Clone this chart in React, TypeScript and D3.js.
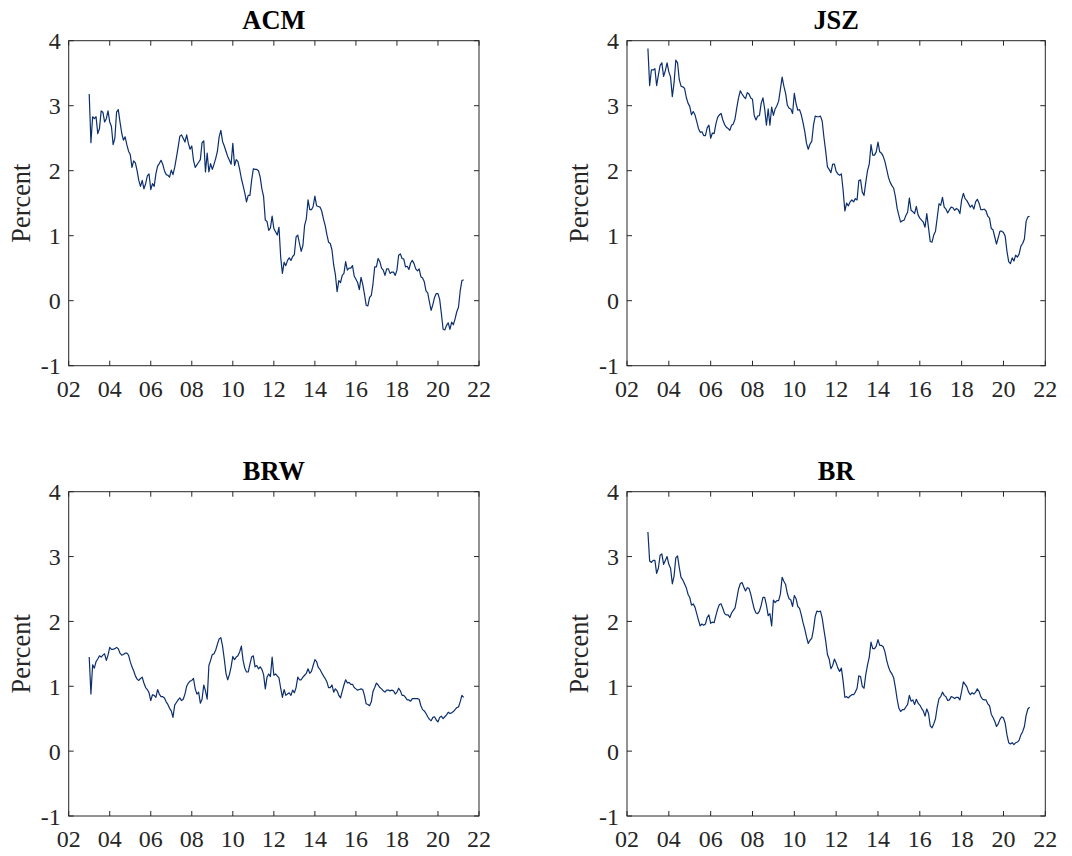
import React from 'react';
import * as d3 from 'd3';

// Monthly observations starting January 2003
const START_YEAR = 2003;
const xTickYears = [2002, 2004, 2006, 2008, 2010, 2012, 2014, 2016, 2018, 2020, 2022];
const yTickValues = [-1, 0, 1, 2, 3, 4];
const panelTitles = ['ACM', 'JSZ', 'BRW', 'BR'];

const acmValues = [
  3.18, 2.43, 2.83, 2.80, 2.83, 2.57, 2.65, 2.92, 2.90, 2.75, 2.80, 2.92,
  2.75, 2.68, 2.40, 2.50, 2.90, 2.94, 2.75, 2.58, 2.47, 2.52, 2.40, 2.30,
  2.25, 2.05, 2.15, 2.12, 2.00, 1.85, 1.76, 1.85, 1.72, 1.80, 1.92, 1.95,
  1.71, 1.80, 1.76, 1.95, 2.07, 2.11, 2.16, 2.10, 2.00, 1.94, 1.93, 1.90,
  2.01, 1.94, 2.05, 2.20, 2.36, 2.53, 2.55, 2.50, 2.44, 2.55, 2.42, 2.33,
  2.38, 2.16, 2.05, 2.09, 2.13, 2.17, 2.43, 2.46, 1.98, 2.27, 1.98, 2.11,
  2.02, 2.10, 2.19, 2.30, 2.52, 2.62, 2.45, 2.38, 2.30, 2.22, 2.16, 2.10,
  2.42, 2.08, 2.17, 2.14, 2.02, 1.88, 1.77, 1.66, 1.52, 1.62, 1.62, 1.85,
  2.03, 2.02, 2.02, 2.00, 1.90, 1.72, 1.60, 1.24, 1.22, 1.08, 1.12, 1.30,
  1.11, 1.06, 1.01, 1.13, 0.67, 0.42, 0.59, 0.54, 0.62, 0.66, 0.62, 0.68,
  0.71, 0.98, 1.01, 0.88, 0.76, 0.85, 1.16, 1.26, 1.55, 1.40, 1.40, 1.45,
  1.61, 1.46, 1.45, 1.44, 1.38, 1.26, 1.16, 1.02, 0.90, 0.88, 0.78, 0.55,
  0.40, 0.14, 0.31, 0.28, 0.39, 0.42, 0.60, 0.47, 0.50, 0.50, 0.54, 0.38,
  0.33, 0.28, 0.17, 0.36, 0.25, 0.10, -0.07, -0.08, 0.05, 0.08, 0.26, 0.52,
  0.52, 0.65, 0.60, 0.50, 0.47, 0.39, 0.49, 0.49, 0.42, 0.44, 0.44, 0.39,
  0.47, 0.70, 0.72, 0.65, 0.64, 0.52, 0.53, 0.48, 0.58, 0.62, 0.57, 0.49,
  0.46, 0.49, 0.37, 0.35, 0.29, 0.15, 0.12, -0.02, -0.15, -0.06, 0.05, 0.11,
  0.11, 0.02, -0.20, -0.44, -0.45, -0.38, -0.34, -0.44, -0.33, -0.37, -0.28, -0.17,
  -0.10, 0.15, 0.31, 0.32,
];

const jszValues = [
  3.88, 3.31, 3.55, 3.55, 3.57, 3.31, 3.47, 3.62, 3.66, 3.45, 3.54, 3.66,
  3.52, 3.44, 3.14, 3.35, 3.70, 3.66, 3.40, 3.30, 3.29, 3.27, 3.13, 3.04,
  2.99, 2.86, 2.91, 2.86, 2.76, 2.65, 2.59, 2.60, 2.54, 2.54, 2.66, 2.70,
  2.50, 2.58, 2.57, 2.72, 2.82, 2.86, 2.88, 2.78, 2.71, 2.67, 2.65, 2.62,
  2.70, 2.72, 2.80, 2.97, 3.12, 3.23, 3.18, 3.14, 3.11, 3.20, 3.18, 3.12,
  3.10, 2.85, 2.78, 2.84, 2.85, 3.04, 3.12, 2.95, 2.70, 2.95, 2.70, 2.98,
  2.85, 2.95, 3.00, 3.07, 3.25, 3.44, 3.30, 3.19, 3.01, 2.96, 2.95, 2.88,
  3.19, 3.03, 2.93, 2.94, 2.86, 2.74, 2.60, 2.42, 2.33, 2.41, 2.45, 2.70,
  2.84, 2.83, 2.83, 2.84, 2.76, 2.51, 2.30, 2.06, 2.02, 1.97, 2.10, 2.10,
  1.99, 1.95, 1.93, 1.95, 1.70, 1.38, 1.50, 1.46, 1.52, 1.55, 1.52, 1.57,
  1.55, 1.85, 1.86, 1.67, 1.62, 1.82, 2.00, 2.10, 2.40, 2.24, 2.24, 2.29,
  2.44, 2.29, 2.27, 2.22, 2.14, 2.02, 1.90, 1.82, 1.77, 1.73, 1.60, 1.42,
  1.31, 1.21, 1.23, 1.24, 1.31, 1.36, 1.58, 1.39, 1.37, 1.34, 1.45, 1.32,
  1.27, 1.24, 1.21, 1.13, 1.34, 1.12, 0.91, 0.90, 1.01, 1.07, 1.28, 1.49,
  1.47, 1.59, 1.44, 1.41, 1.35, 1.40, 1.44, 1.43, 1.39, 1.42, 1.40, 1.34,
  1.55, 1.65, 1.57, 1.54, 1.49, 1.44, 1.47, 1.41, 1.52, 1.56, 1.50, 1.40,
  1.40, 1.41, 1.38, 1.30, 1.27, 1.11, 1.09, 0.98, 0.87, 0.97, 1.07, 1.07,
  1.05, 0.99, 0.76, 0.60, 0.57, 0.66, 0.61, 0.70, 0.67, 0.72, 0.84, 0.88,
  0.95, 1.22, 1.29, 1.30,
];

const brwValues = [
  1.45, 0.88, 1.33, 1.28, 1.38, 1.42, 1.47, 1.45, 1.48, 1.50, 1.40, 1.48,
  1.60, 1.57, 1.57, 1.58, 1.60, 1.58, 1.51, 1.48, 1.49, 1.51, 1.51, 1.48,
  1.38, 1.30, 1.24, 1.16, 1.11, 1.09, 1.12, 1.14, 1.05, 0.98, 0.95, 0.90,
  0.78, 0.87, 0.86, 0.83, 0.95, 0.88, 0.84, 0.84, 0.82, 0.76, 0.72, 0.66,
  0.62, 0.52, 0.71, 0.75, 0.79, 0.82, 0.78, 0.80, 0.88, 1.00, 1.05, 1.08,
  1.09, 1.12, 0.96, 0.88, 0.91, 0.74, 0.80, 1.02, 0.93, 0.80, 1.32, 1.40,
  1.49, 1.50, 1.56, 1.65, 1.73, 1.75, 1.62, 1.42, 1.20, 1.10, 1.18, 1.30,
  1.46, 1.41, 1.45, 1.47, 1.53, 1.62, 1.40, 1.28, 1.22, 1.22, 1.34, 1.45,
  1.47, 1.30, 1.32, 1.27, 1.30, 1.26, 1.18, 0.96, 1.14, 1.19, 1.15, 1.45,
  1.17, 1.19, 1.16, 1.13, 0.97, 0.83, 0.95, 0.86, 0.88, 0.90, 0.86, 0.94,
  0.90, 0.98, 1.14, 1.10, 1.10, 1.14, 1.17, 1.20, 1.27, 1.20, 1.23, 1.32,
  1.41, 1.38, 1.29, 1.26, 1.21, 1.16, 1.12, 1.07, 0.98, 0.98, 1.02, 0.91,
  0.96, 0.93, 0.86, 0.82, 0.92, 1.02, 1.10, 1.05, 1.06, 1.03, 1.03, 0.98,
  0.96, 0.94, 0.95, 0.96, 0.95, 0.86, 0.73, 0.72, 0.70, 0.76, 0.92, 0.98,
  1.05, 1.02, 0.98, 0.96, 0.93, 0.91, 0.94, 0.94, 0.93, 0.94, 0.93, 0.88,
  0.91, 0.97, 0.93, 0.86, 0.86, 0.83, 0.79, 0.79, 0.77, 0.81, 0.81, 0.81,
  0.81, 0.80, 0.70, 0.64, 0.62, 0.58, 0.53, 0.49, 0.47, 0.52, 0.53, 0.48,
  0.45, 0.52, 0.54, 0.50, 0.53, 0.56, 0.60, 0.58, 0.59, 0.61, 0.64, 0.67,
  0.68, 0.76, 0.86, 0.83,
];

const brValues = [
  3.38, 2.93, 2.91, 2.94, 2.94, 2.74, 2.82, 3.02, 3.04, 2.88, 2.94, 3.00,
  2.88, 2.82, 2.58, 2.70, 2.98, 3.01, 2.83, 2.68, 2.64, 2.58, 2.52, 2.42,
  2.37, 2.25, 2.27, 2.22, 2.12, 2.02, 1.93, 1.96, 1.94, 1.96, 2.06, 2.10,
  1.97, 1.99, 1.98, 2.09, 2.19, 2.26, 2.27, 2.20, 2.12, 2.10, 2.10, 2.06,
  2.13, 2.17, 2.21, 2.35, 2.50, 2.58, 2.60, 2.53, 2.47, 2.52, 2.51, 2.42,
  2.30, 2.19, 2.13, 2.12, 2.16, 2.25, 2.37, 2.37, 2.25, 2.09, 2.12, 1.93,
  2.33, 2.29, 2.32, 2.32, 2.42, 2.68, 2.62, 2.57, 2.43, 2.35, 2.33, 2.23,
  2.40, 2.35, 2.23, 2.20, 2.10, 1.98, 1.88, 1.76, 1.66, 1.71, 1.74, 1.88,
  2.08, 2.16, 2.15, 2.16, 2.05, 1.87, 1.70, 1.49, 1.42, 1.27, 1.32, 1.42,
  1.36, 1.28, 1.23, 1.28, 1.08, 0.83, 0.84, 0.82, 0.85, 0.87, 0.87, 0.91,
  0.97, 1.16, 1.15, 1.00, 0.97, 1.18, 1.33, 1.45, 1.68, 1.58, 1.58, 1.62,
  1.72, 1.63, 1.63, 1.61, 1.53, 1.40, 1.30, 1.23, 1.19, 1.13, 0.98, 0.80,
  0.66, 0.61, 0.64, 0.64, 0.68, 0.72, 0.86, 0.77, 0.79, 0.72, 0.80, 0.74,
  0.71, 0.66, 0.62, 0.54, 0.65, 0.58, 0.39, 0.36, 0.42, 0.50, 0.68, 0.81,
  0.84, 0.91, 0.86, 0.84, 0.78, 0.79, 0.84, 0.83, 0.81, 0.83, 0.83, 0.79,
  0.92, 1.07, 1.03, 0.99, 0.91, 0.87, 0.90, 0.88, 0.91, 0.96, 0.92, 0.84,
  0.80, 0.79, 0.79, 0.73, 0.70, 0.57, 0.52, 0.46, 0.38, 0.42, 0.49, 0.53,
  0.51, 0.43, 0.25, 0.13, 0.11, 0.13, 0.10, 0.13, 0.14, 0.17, 0.25, 0.30,
  0.38, 0.55, 0.65, 0.68,
];

const seriesList = [acmValues, jszValues, brwValues, brValues];

const boxes = [
  { left: 68.7, right: 479, top: 40.7, bottom: 365.7 },
  { left: 627, right: 1045.3, top: 40.7, bottom: 365.7 },
  { left: 68.7, right: 479, top: 491.7, bottom: 816 },
  { left: 627, right: 1045.3, top: 491.7, bottom: 816 },
];

const FONT = '"Liberation Serif", "Times New Roman", Times, serif';
const AXIS_COLOR = '#262626';
const LINE_COLOR = '#0b2f6e';
const TICK_LEN = 5;

function Panel({ title, values, box }: { title: string; values: number[]; box: { left: number; right: number; top: number; bottom: number } }) {
  const x = d3.scaleLinear().domain([2002, 2022]).range([box.left, box.right]);
  const y = d3.scaleLinear().domain([-1, 4]).range([box.bottom, box.top]);
  const dates = values.map((_, i) => START_YEAR + i / 12);
  const lineGen = d3
    .line<number>()
    .x((_, i) => x(dates[i]))
    .y((d) => y(d));
  const path = lineGen(values) || '';
  const cx = (box.left + box.right) / 2;
  const cy = (box.top + box.bottom) / 2;
  return (
    <g>
      <path d={path} fill="none" stroke={LINE_COLOR} strokeWidth={1.2} strokeLinejoin="round" />
      <rect
        x={box.left}
        y={box.top}
        width={box.right - box.left}
        height={box.bottom - box.top}
        fill="none"
        stroke={AXIS_COLOR}
        strokeWidth={1}
      />
      {xTickYears.map((yr) => (
        <g key={'x' + yr}>
          <line x1={x(yr)} x2={x(yr)} y1={box.bottom} y2={box.bottom - TICK_LEN} stroke={AXIS_COLOR} strokeWidth={1} />
          <line x1={x(yr)} x2={x(yr)} y1={box.top} y2={box.top + TICK_LEN} stroke={AXIS_COLOR} strokeWidth={1} />
          <text
            x={x(yr)}
            y={box.bottom + 31}
            textAnchor="middle"
            fontFamily={FONT}
            fontSize={24}
            fill={AXIS_COLOR}
          >
            {String(yr % 100).padStart(2, '0')}
          </text>
        </g>
      ))}
      {yTickValues.map((v) => (
        <g key={'y' + v}>
          <line x1={box.left} x2={box.left + TICK_LEN} y1={y(v)} y2={y(v)} stroke={AXIS_COLOR} strokeWidth={1} />
          <line x1={box.right} x2={box.right - TICK_LEN} y1={y(v)} y2={y(v)} stroke={AXIS_COLOR} strokeWidth={1} />
          <text
            x={box.left - 8}
            y={y(v) + 8.5}
            textAnchor="end"
            fontFamily={FONT}
            fontSize={24}
            fill={AXIS_COLOR}
          >
            {v < 0 ? '-' + Math.abs(v) : String(v)}
          </text>
        </g>
      ))}
      <text
        transform={`translate(${box.left - 39},${cy}) rotate(-90)`}
        textAnchor="middle"
        fontFamily={FONT}
        fontSize={26.4}
        fill={AXIS_COLOR}
      >
        Percent
      </text>
      <text
        x={cx}
        y={box.top - 11.4}
        textAnchor="middle"
        fontFamily={FONT}
        fontSize={26.4}
        fontWeight="bold"
        fill="#000"
      >
        {title}
      </text>
    </g>
  );
}

export default function App() {
  return (
    <svg
      width={1072}
      height={856}
      viewBox="0 0 1072 856"
      style={{ position: 'absolute', left: 0, top: 0, background: '#fff' }}
    >
      <rect x={0} y={0} width={1072} height={856} fill="#fff" />
      {panelTitles.map((t, i) => (
        <Panel key={t} title={t} values={seriesList[i]} box={boxes[i]} />
      ))}
    </svg>
  );
}
